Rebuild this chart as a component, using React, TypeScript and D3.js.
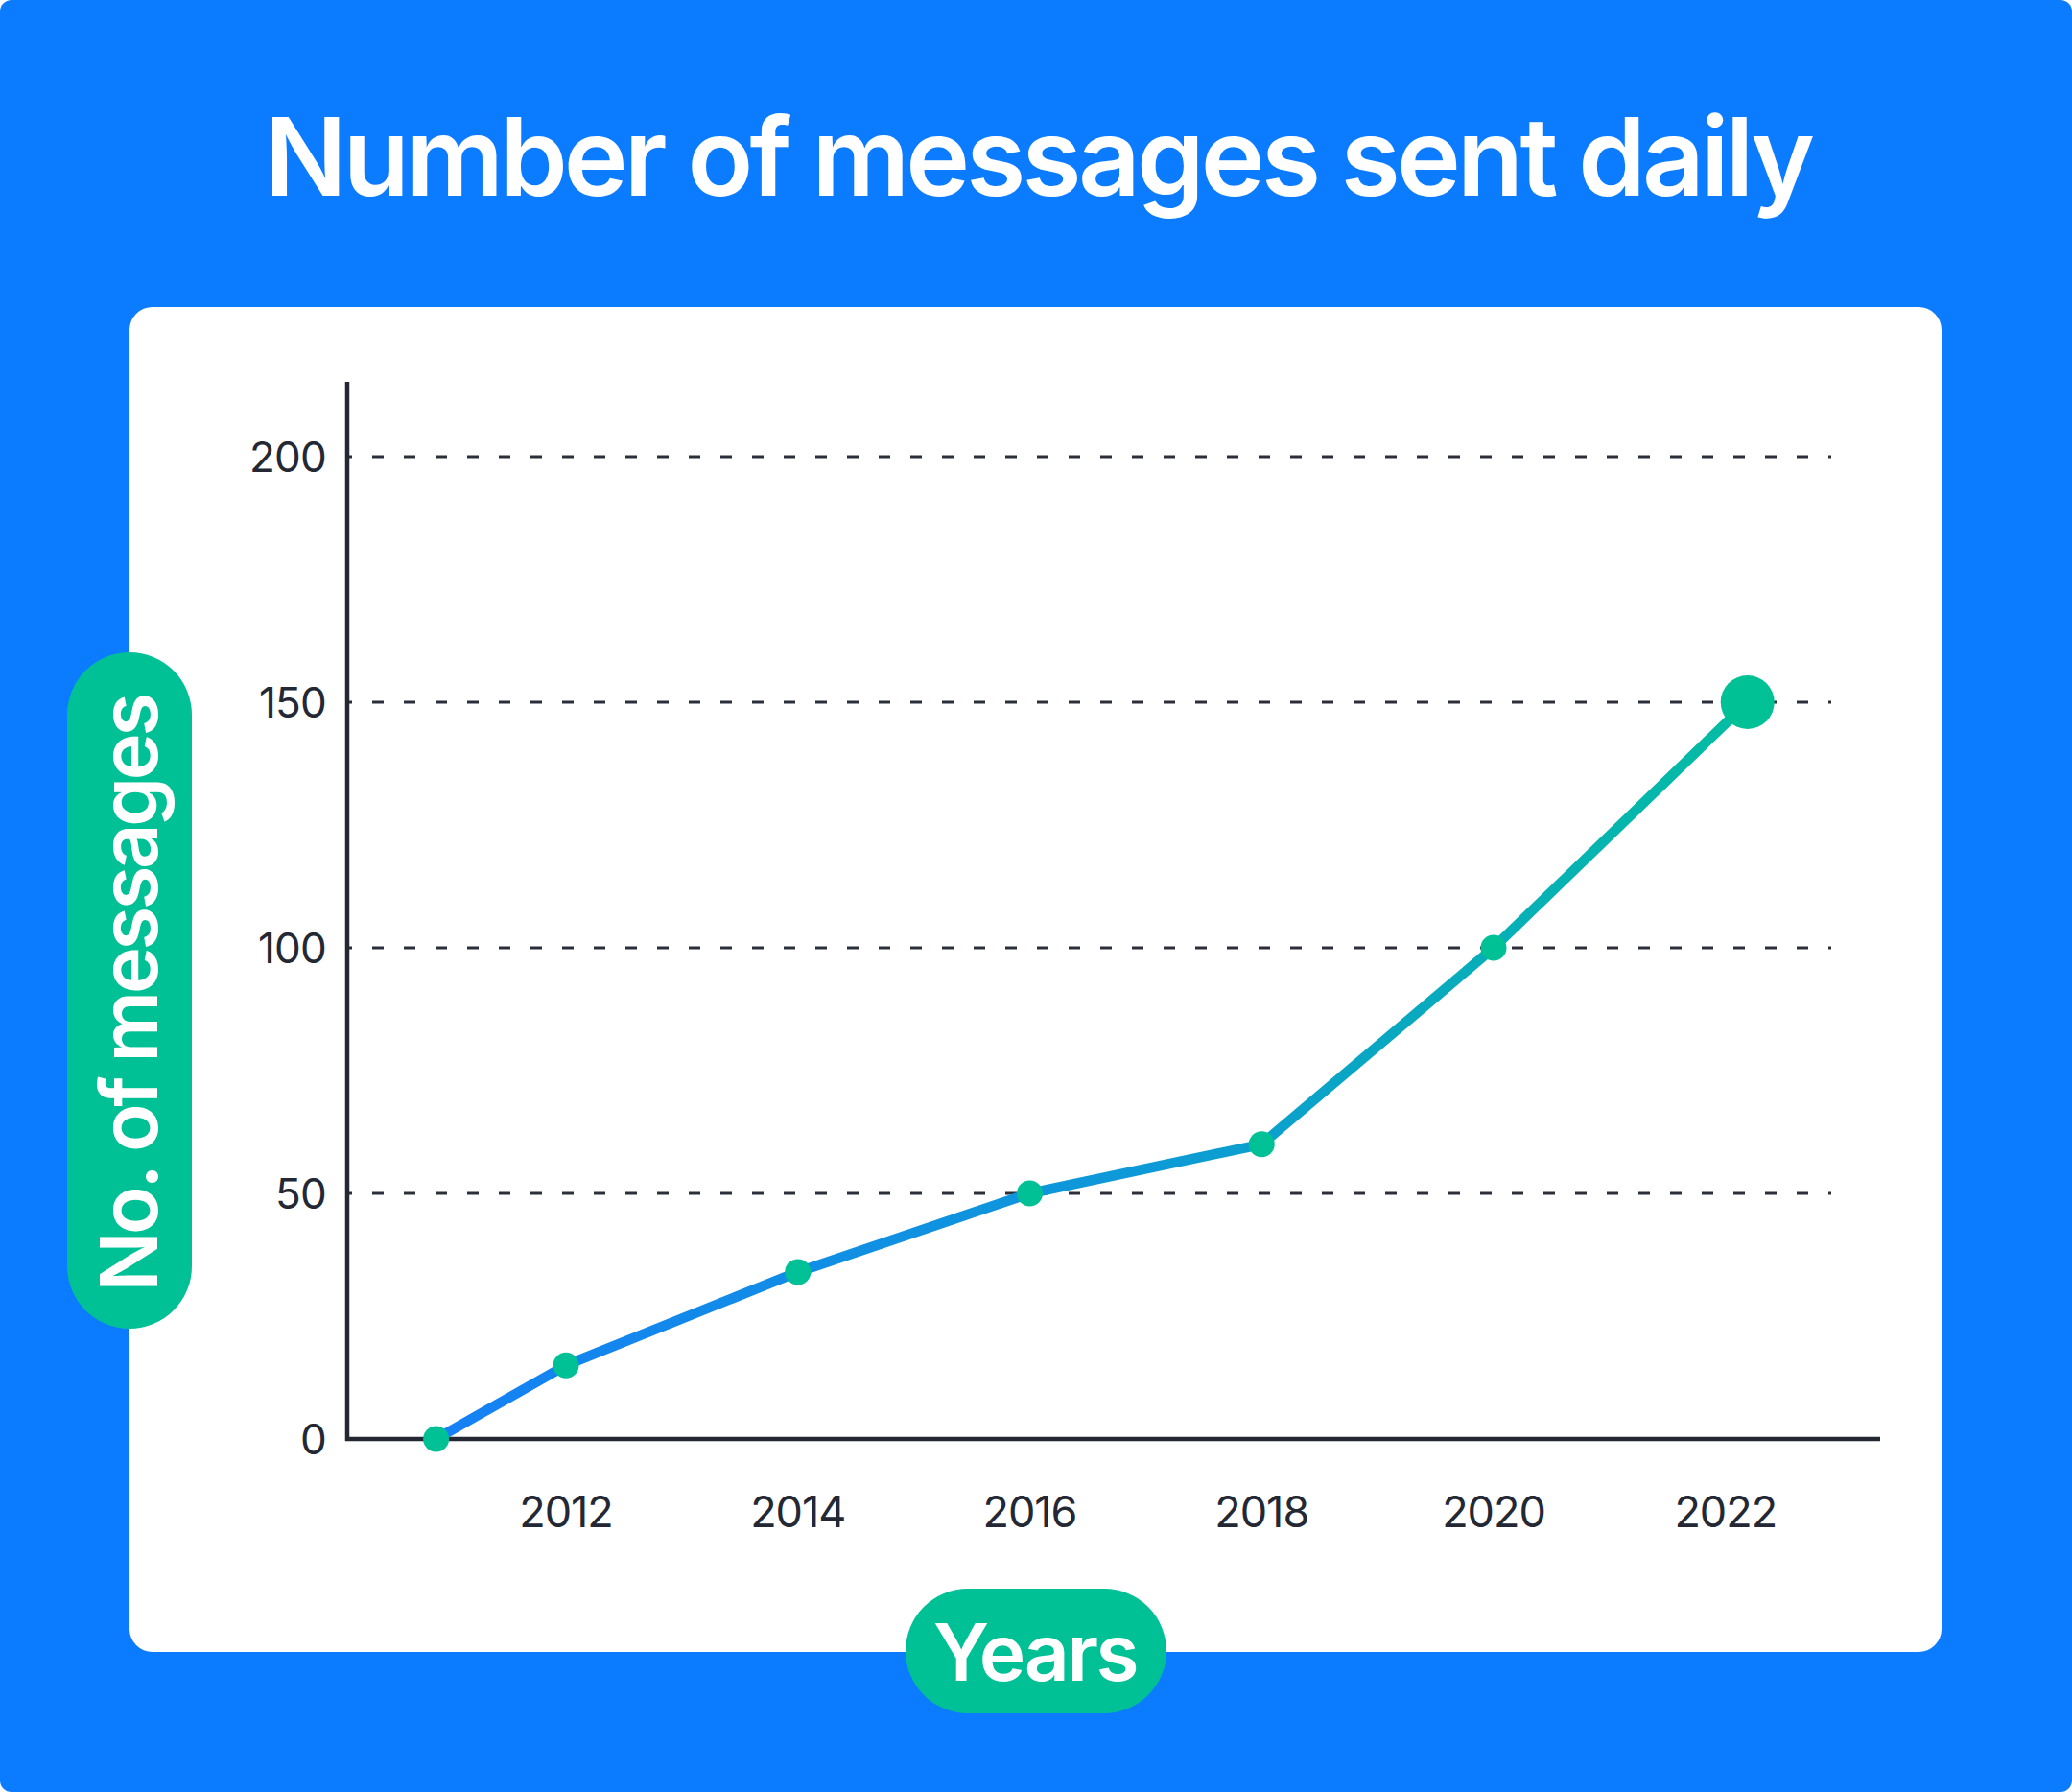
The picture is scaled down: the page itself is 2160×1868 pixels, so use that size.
import React, { useEffect, useRef } from 'react';
import * as d3 from 'd3';

// Values
const years = [2010.88, 2012, 2014, 2016, 2018, 2020, 2022.19];
const messages = [0, 15, 34, 50, 60, 100, 150];
const xTickYears = [2012, 2014, 2016, 2018, 2020, 2022];
const yTickValues = [0, 50, 100, 150, 200];
const gridValues = [50, 100, 150, 200];

const TITLE = 'Number of messages sent daily';
const X_LABEL = 'Years';
const Y_LABEL = 'No. of messages';

const WIDTH = 2160;
const HEIGHT = 1868;
const FONT = 'Inter, "Noto Sans", sans-serif';
const BLUE = '#0b7bff';
const GREEN = '#00c096';
const INK = '#232834';

const App: React.FC = () => {
  const svgRef = useRef<SVGSVGElement>(null);

  useEffect(() => {
    if (!svgRef.current) return;
    const svg = d3.select(svgRef.current);
    svg.selectAll('*').remove();

    // Scales
    const xScale = d3.scaleLinear().domain([2012, 2020]).range([590, 1557]);
    const yScale = d3.scaleLinear().domain([0, 200]).range([1500, 476]);
    const axisX = 362;

    // Background + card
    svg.append('rect').attr('width', WIDTH).attr('height', HEIGHT).attr('rx', 12).attr('fill', BLUE);
    svg.append('rect')
      .attr('x', 135).attr('y', 320)
      .attr('width', 1889).attr('height', 1402)
      .attr('rx', 24)
      .attr('fill', '#ffffff');

    svg.append('text')
      .attr('x', 1082).attr('y', 204)
      .attr('text-anchor', 'middle')
      .attr('font-family', FONT)
      .attr('font-weight', 600)
      .attr('font-size', 113)
      .attr('letter-spacing', -3.8)
      .attr('fill', '#ffffff')
      .text(TITLE);

    // Dashed grid
    svg.selectAll('.grid')
      .data(gridValues)
      .enter().append('line')
      .attr('x1', axisX + 2).attr('x2', 1909)
      .attr('y1', d => yScale(d)).attr('y2', d => yScale(d))
      .attr('stroke', '#2b2f3a')
      .attr('stroke-width', 3)
      .attr('stroke-dasharray', '12 21')
      .attr('stroke-dashoffset', 9);

    // Axes
    svg.append('line')
      .attr('x1', axisX).attr('x2', axisX)
      .attr('y1', 398).attr('y2', yScale(0) + 2)
      .attr('stroke', INK).attr('stroke-width', 4.5);
    svg.append('line')
      .attr('x1', axisX - 2).attr('x2', 1960)
      .attr('y1', yScale(0)).attr('y2', yScale(0))
      .attr('stroke', INK).attr('stroke-width', 4.5);

    svg.selectAll('.ytick')
      .data(yTickValues)
      .enter().append('text')
      .attr('x', 340)
      .attr('y', d => yScale(d) + 16)
      .attr('text-anchor', 'end')
      .attr('font-family', FONT)
      .attr('font-size', 44)
      .attr('letter-spacing', -0.8)
      .attr('fill', INK)
      .text(d => d);

    svg.selectAll('.xtick')
      .data(xTickYears)
      .enter().append('text')
      .attr('x', d => xScale(d))
      .attr('y', 1592)
      .attr('text-anchor', 'middle')
      .attr('font-family', FONT)
      .attr('font-size', 45)
      .attr('letter-spacing', -1)
      .attr('fill', INK)
      .text(d => d);

    // Line with blue -> teal gradient
    const pts = years.map((y, i) => ({ year: y, value: messages[i] }));
    const grad = svg.append('defs').append('linearGradient')
      .attr('id', 'lineGrad')
      .attr('gradientUnits', 'userSpaceOnUse')
      .attr('x1', xScale(years[0])).attr('x2', xScale(years[years.length - 1]))
      .attr('y1', 0).attr('y2', 0);
    grad.append('stop').attr('offset', '0%').attr('stop-color', '#1580f5');
    grad.append('stop').attr('offset', '55%').attr('stop-color', '#0d9ad6');
    grad.append('stop').attr('offset', '100%').attr('stop-color', '#03bda2');

    const line = d3.line<{ year: number; value: number }>()
      .x(d => xScale(d.year))
      .y(d => yScale(d.value));

    svg.append('path')
      .datum(pts)
      .attr('d', line)
      .attr('fill', 'none')
      .attr('stroke', 'url(#lineGrad)')
      .attr('stroke-width', 10.5)
      .attr('stroke-linejoin', 'round');

    svg.selectAll('.dot')
      .data(pts)
      .enter().append('circle')
      .attr('cx', d => xScale(d.year))
      .attr('cy', d => yScale(d.value))
      .attr('r', (d, i) => (i === pts.length - 1 ? 28 : 13.5))
      .attr('fill', GREEN);

    // Axis title pills
    svg.append('rect')
      .attr('x', 944).attr('y', 1656)
      .attr('width', 272).attr('height', 130)
      .attr('rx', 65)
      .attr('fill', GREEN);
    svg.append('text')
      .attr('x', 1079).attr('y', 1752)
      .attr('text-anchor', 'middle')
      .attr('font-family', FONT)
      .attr('font-weight', 600)
      .attr('font-size', 82)
      .attr('letter-spacing', -2.4)
      .attr('fill', '#ffffff')
      .text(X_LABEL);

    svg.append('rect')
      .attr('x', 70).attr('y', 680)
      .attr('width', 130).attr('height', 705)
      .attr('rx', 65)
      .attr('fill', GREEN);
    svg.append('g')
      .attr('transform', 'translate(135,1036) rotate(-90)')
      .append('text')
      .attr('x', 0).attr('y', 29)
      .attr('text-anchor', 'middle')
      .attr('font-family', FONT)
      .attr('font-weight', 600)
      .attr('font-size', 83)
      .attr('letter-spacing', -3.4)
      .attr('fill', '#ffffff')
      .text(Y_LABEL);
  }, []);

  return (
    <svg
      ref={svgRef}
      width={WIDTH}
      height={HEIGHT}
      style={{ position: 'absolute', left: 0, top: 0, display: 'block' }}
    />
  );
};

export default App;
